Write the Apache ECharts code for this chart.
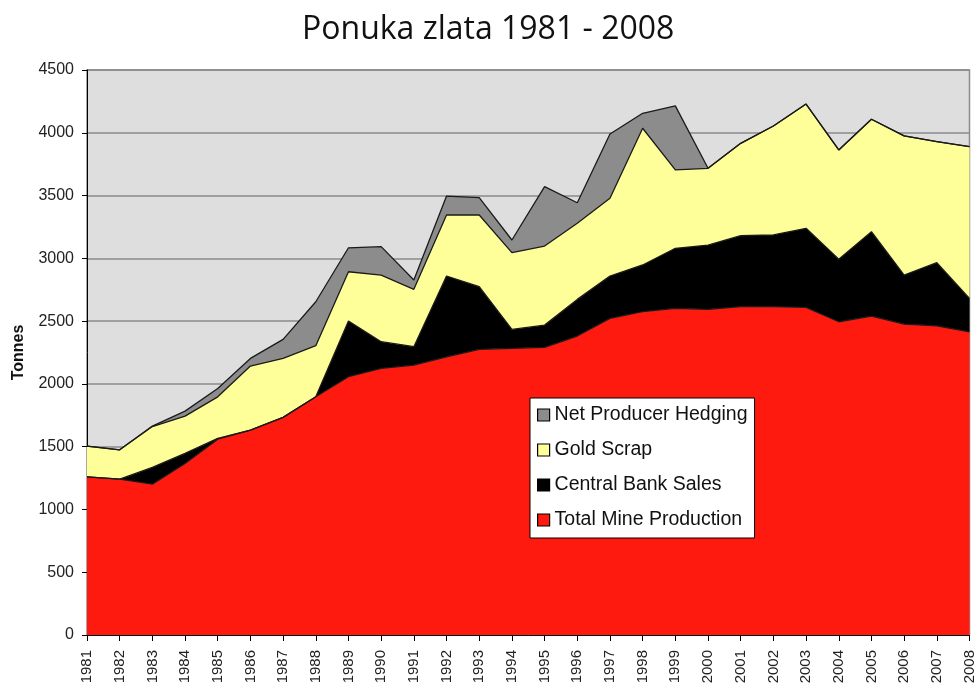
<!DOCTYPE html>
<html>
<head>
<meta charset="utf-8">
<script src="https://cdn.jsdelivr.net/npm/echarts@6/dist/echarts.min.js"></script>
<style>html,body{margin:0;padding:0;background:#fff}#c{width:977px;height:688px}</style>
</head>
<body>
<div id="c"></div>
<script>
const years = ['1981','1982','1983','1984','1985','1986','1987','1988','1989','1990','1991','1992','1993','1994','1995','1996','1997','1998','1999','2000','2001','2002','2003','2004','2005','2006','2007','2008'];
const mineProduction = [1260,1241,1201,1366,1560,1632,1733,1897,2057,2123,2150,2216,2275,2283,2291,2381,2522,2575,2602,2594,2615,2615,2609,2495,2540,2476,2463,2415];
const centralBankSales = [0,0,134,80,6,0,0,0,443,213,146,643,499,151,177,292,337,372,478,512,565,571,630,497,672,391,502,266];
const goldScrap = [245,234,325,297,331,510,470,407,393,531,457,486,571,611,630,606,619,1089,624,611,736,868,990,871,896,1108,964,1209];
const netHedging = [0,0,4,40,67,61,152,350,191,226,74,151,138,101,473,164,512,119,510,0,0,0,0,0,0,0,0,0];
const yTicks = [0,500,1000,1500,2000,2500,3000,3500,4000,4500];

const chart = echarts.init(document.getElementById('c'), null, {renderer:'canvas'});
function areaSeries(name, data, color){
  return {
    name, type:'line', stack:'total', data, symbol:'none', smooth:false,
    itemStyle:{color, borderColor:'#000', borderWidth:1},
    lineStyle:{color:'#1a1a1a', width:1.3},
    areaStyle:{color, opacity:1},
    emphasis:{disabled:true}
  };
}
chart.setOption({
  animation:false,
  backgroundColor:'#fff',
  title:{text:'Ponuka zlata 1981 - 2008', left:297, top:9,
    textStyle:{fontFamily:'Open Sans', fontSize:32, fontWeight:'normal', color:'#111'}},
  grid:{left:87, right:7, top:70, bottom:53, show:true, backgroundColor:'#dedede', borderColor:'#8c8c8c', borderWidth:1.5},
  legend:{
    data:['Net Producer Hedging','Gold Scrap','Central Bank Sales','Total Mine Production'],
    orient:'vertical', left:530, top:398, icon:'rect', itemWidth:12, itemHeight:12, itemGap:15,
    padding:[7,7,8,7], backgroundColor:'#fff', borderColor:'#000', borderWidth:1,
    itemStyle:{borderColor:'#000', borderWidth:1.2},
    textStyle:{fontFamily:'Liberation Sans', fontSize:19.5, color:'#111', padding:[0,0,0,0]}
  },
  xAxis:{
    type:'category', data:years, boundaryGap:false,
    axisLine:{lineStyle:{color:'#000', width:1}},
    axisTick:{show:true, alignWithLabel:true, length:6, lineStyle:{color:'#000'}},
    axisLabel:{rotate:90, fontFamily:'Liberation Sans', fontSize:15, color:'#222', margin:15, interval:0},
    splitLine:{show:false}
  },
  yAxis:{
    type:'value', min:0, max:4500, interval:500,
    name:'Tonnes', nameLocation:'middle', nameGap:60, nameRotate:90,
    nameTextStyle:{fontFamily:'Liberation Sans', fontSize:16, fontWeight:'bold', color:'#111'},
    axisLine:{show:true, lineStyle:{color:'#000', width:1}},
    axisTick:{show:true, length:5, lineStyle:{color:'#000'}},
    axisLabel:{fontFamily:'Liberation Sans', fontSize:16, color:'#222', margin:13,
      formatter:v=> yTicks.includes(v)? String(v):''},
    splitLine:{show:true, lineStyle:{color:'#8a8a8a', width:1.5}}
  },
  series:[
    areaSeries('Total Mine Production', mineProduction, '#ff1a10'),
    areaSeries('Central Bank Sales', centralBankSales, '#000000'),
    areaSeries('Gold Scrap', goldScrap, '#ffff99'),
    areaSeries('Net Producer Hedging', netHedging, '#8c8c8c')
  ]
});
</script>
</body>
</html>
